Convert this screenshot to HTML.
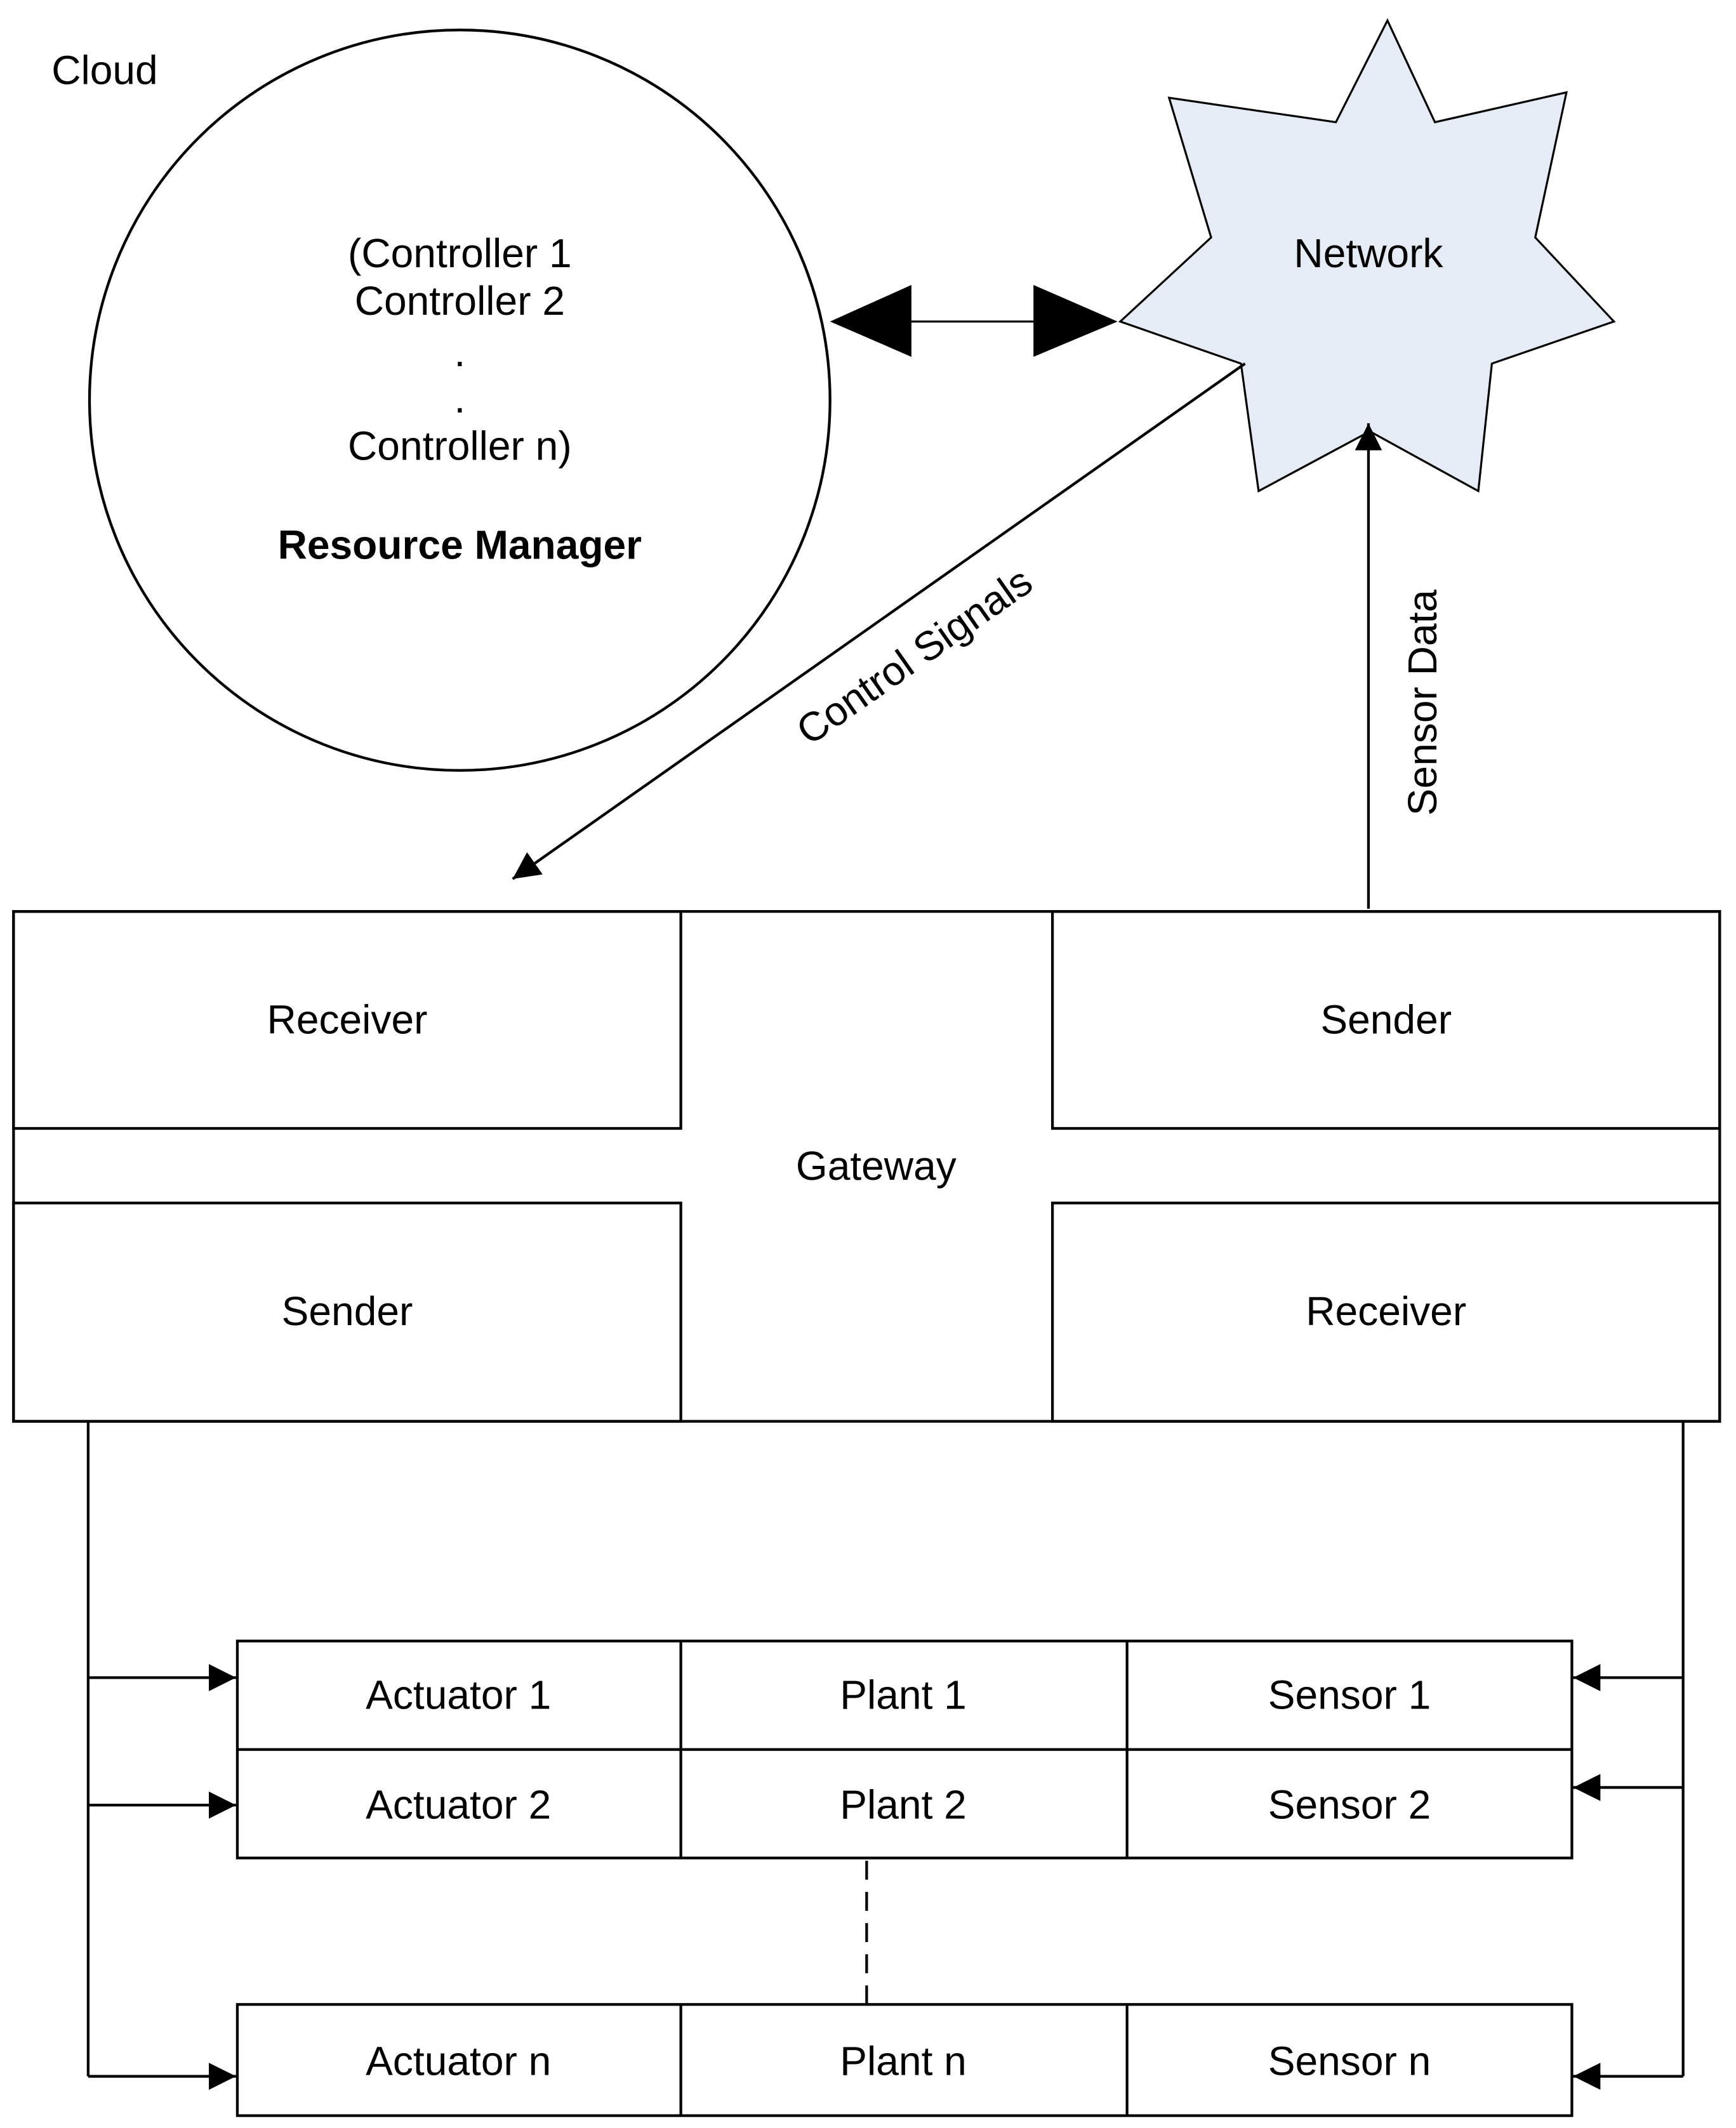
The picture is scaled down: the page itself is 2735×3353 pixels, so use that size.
<!DOCTYPE html>
<html><head><meta charset="utf-8"><style>
html,body{margin:0;padding:0;background:#fff;}
svg{display:block;}
text{font-family:"Liberation Sans",Arial,sans-serif;font-size:30px;fill:#000;}
</style></head><body>
<svg width="2735" height="3353" viewBox="0 0 1280 1569" xmlns="http://www.w3.org/2000/svg">
<defs>
<marker id="a" viewBox="0 0 10 10" refX="10" refY="5" markerWidth="20" markerHeight="20" markerUnits="userSpaceOnUse" orient="auto"><path d="M0,0 L10,5 L0,10 z" fill="#000"/></marker>
</defs>
<text x="38" y="62">Cloud</text>
<ellipse cx="339" cy="295" rx="273" ry="273" fill="#fff" stroke="#000" stroke-width="2"/>
<g text-anchor="middle">
<text x="339" y="197">(Controller 1</text>
<text x="339" y="232">Controller 2</text>
<text x="339" y="270">.</text>
<text x="339" y="304">.</text>
<text x="339" y="339">Controller n)</text>
<text x="339" y="412" font-weight="bold">Resource Manager</text>
</g>
<polygon points="1023,15 1058,90 1155,68 1132,175 1190,237 1100,268 1090,362 1010,318 928,362 915,268 826,237 893,175 862,72 985,90" fill="#e6ecf6" stroke="#000" stroke-width="1.5"/>
<text x="1009" y="197" text-anchor="middle">Network</text>
<line x1="670" y1="237" x2="765" y2="237" stroke="#000" stroke-width="1.5"/>
<polygon points="612,237 672,210 672,263" fill="#000"/>
<polygon points="824,237 762,210 762,263" fill="#000"/>
<line x1="918" y1="268" x2="378" y2="648" stroke="#000" stroke-width="2" marker-end="url(#a)"/>
<text transform="translate(680,492) rotate(-35)" text-anchor="middle">Control Signals</text>
<line x1="1009" y1="670" x2="1009" y2="312" stroke="#000" stroke-width="2" marker-end="url(#a)"/>
<text transform="translate(1059,518) rotate(-90)" text-anchor="middle">Sensor Data</text>
<g fill="none" stroke="#000" stroke-width="2">
<rect x="10" y="672" width="1258" height="376"/>
<rect x="10" y="672" width="492" height="160"/>
<rect x="776" y="672" width="492" height="160"/>
<rect x="10" y="887" width="492" height="161"/>
<rect x="776" y="887" width="492" height="161"/>
</g>
<g text-anchor="middle">
<text x="256" y="762">Receiver</text>
<text x="1022" y="762">Sender</text>
<text x="646" y="870">Gateway</text>
<text x="256" y="977">Sender</text>
<text x="1022" y="977">Receiver</text>
</g>
<g stroke="#000" stroke-width="2" fill="none">
<polyline points="65,1048 65,1531"/>
<polyline points="1241,1048 1241,1531"/>
<line x1="65" y1="1237" x2="174" y2="1237" marker-end="url(#a)"/>
<line x1="65" y1="1331" x2="174" y2="1331" marker-end="url(#a)"/>
<line x1="65" y1="1531" x2="174" y2="1531" marker-end="url(#a)"/>
<line x1="1241" y1="1237" x2="1160" y2="1237" marker-end="url(#a)"/>
<line x1="1241" y1="1318" x2="1160" y2="1318" marker-end="url(#a)"/>
<line x1="1241" y1="1531" x2="1160" y2="1531" marker-end="url(#a)"/>
<rect x="175" y="1210" width="984" height="160"/>
<line x1="175" y1="1290" x2="1159" y2="1290"/>
<line x1="502" y1="1210" x2="502" y2="1370"/>
<line x1="831" y1="1210" x2="831" y2="1370"/>
<rect x="175" y="1478" width="984" height="82"/>
<line x1="502" y1="1478" x2="502" y2="1560"/>
<line x1="831" y1="1478" x2="831" y2="1560"/>
<line x1="639" y1="1372" x2="639" y2="1478" stroke-dasharray="14,9"/>
</g>
<g text-anchor="middle">
<text x="338" y="1260">Actuator 1</text>
<text x="666" y="1260">Plant 1</text>
<text x="995" y="1260">Sensor 1</text>
<text x="338" y="1341">Actuator 2</text>
<text x="666" y="1341">Plant 2</text>
<text x="995" y="1341">Sensor 2</text>
<text x="338" y="1530">Actuator n</text>
<text x="666" y="1530">Plant n</text>
<text x="995" y="1530">Sensor n</text>
</g>
</svg>
</body></html>
